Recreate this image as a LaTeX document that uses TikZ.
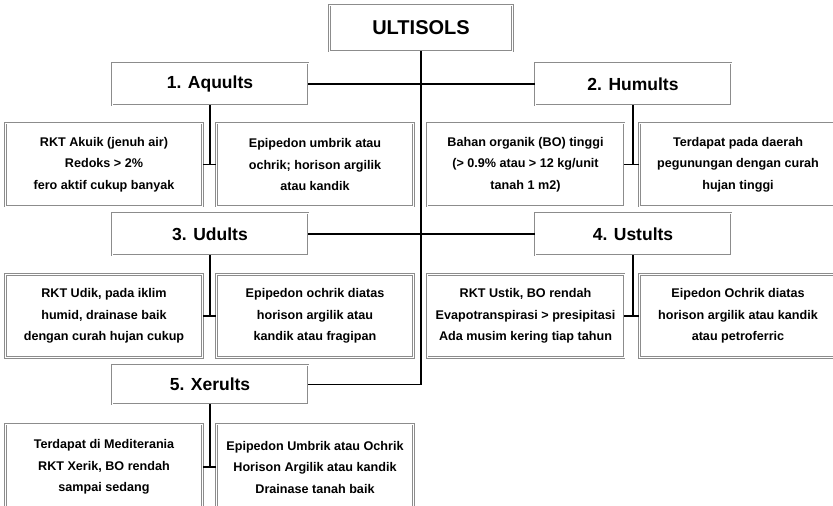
\documentclass[tikz,border=0pt]{standalone}
\usepackage{fontspec}
\setmainfont{Liberation Sans}
\begin{document}
\begin{tikzpicture}[x=1pt,y=-1pt,
  cbox/.style={draw=gray!90, line width=0.7pt, double=white, double distance=0.7pt,
    fill=white, inner sep=0pt, align=center, font=\bfseries\fontsize{12.6}{21.5}\selectfont},
  tbox/.style={cbox, minimum width=196pt, minimum height=42pt, font=\bfseries\fontsize{17.5}{20}\selectfont},
  dbox/.style={cbox, minimum width=197pt, minimum height=83pt},
  link/.style={black, line width=1.3pt}]
\useasboundingbox (0,0) rectangle (833,506);
\clip (0,0) rectangle (833,506);
% main
\node[tbox, minimum width=183pt, minimum height=46pt, font=\bfseries\fontsize{20}{22}\selectfont] (ult) at (421,28) {ULTISOLS};
\node[tbox] (aq) at (210,84) {1. Aquults};
\node[tbox] (hu) at (633,84) {2. Humults};
\node[tbox] (ud) at (210,234) {3. Udults};
\node[tbox] (us) at (633,234) {4. Ustults};
\node[tbox, minimum height=39pt] (xe) at (210,384.5) {5. Xerults};
% details
\node[dbox] (a1) at (104,164.5) {RKT Akuik (jenuh air)\\Redoks > 2\%\\fero aktif cukup banyak};
\node[dbox] (a2) at (315,164.5) {Epipedon umbrik atau\\ochrik; horison argilik\\atau kandik};
\node[dbox] (h1) at (525.5,164.5) {Bahan organik (BO) tinggi\\(> 0.9\% atau > 12 kg/unit\\tanah 1 m2)};
\node[dbox] (h2) at (738,164.5) {Terdapat pada daerah\\pegunungan dengan curah\\hujan tinggi};
\node[dbox] (u1) at (104,316) {RKT Udik, pada iklim\\humid, drainase baik\\dengan curah hujan cukup};
\node[dbox] (u2) at (315,316) {Epipedon ochrik diatas\\horison argilik atau\\kandik atau fragipan};
\node[dbox] (s1) at (525.5,316) {RKT Ustik, BO rendah\\Evapotranspirasi > presipitasi\\Ada musim kering tiap tahun};
\node[dbox] (s2) at (738,316) {Eipedon Ochrik diatas\\horison argilik atau kandik\\atau petroferric};
\node[dbox, minimum height=86pt] (x1) at (104,467) {Terdapat di Mediterania\\RKT Xerik, BO rendah\\sampai sedang};
\node[dbox, minimum height=86pt] (x2) at (315,467) {Epipedon Umbrik atau Ochrik\\Horison Argilik atau kandik\\Drainase tanah baik};
% connectors
\draw[link] (ult.south) |- (xe.east);
\draw[link] (aq.east) -- (hu.west);
\draw[link] (ud.east) -- (us.west);
\draw[link] (aq.south) -- (aq |- a1.east);
\draw[link] (a1.east) -- (a2.west);
\draw[link] (hu.south) -- (hu |- h1.east);
\draw[link] (h1.east) -- (h2.west);
\draw[link] (ud.south) -- (ud |- u1.east);
\draw[link] (u1.east) -- (u2.west);
\draw[link] (us.south) -- (us |- s1.east);
\draw[link] (s1.east) -- (s2.west);
\draw[link] (xe.south) -- (xe |- x1.east);
\draw[link] (x1.east) -- (x2.west);
\end{tikzpicture}
\end{document}
